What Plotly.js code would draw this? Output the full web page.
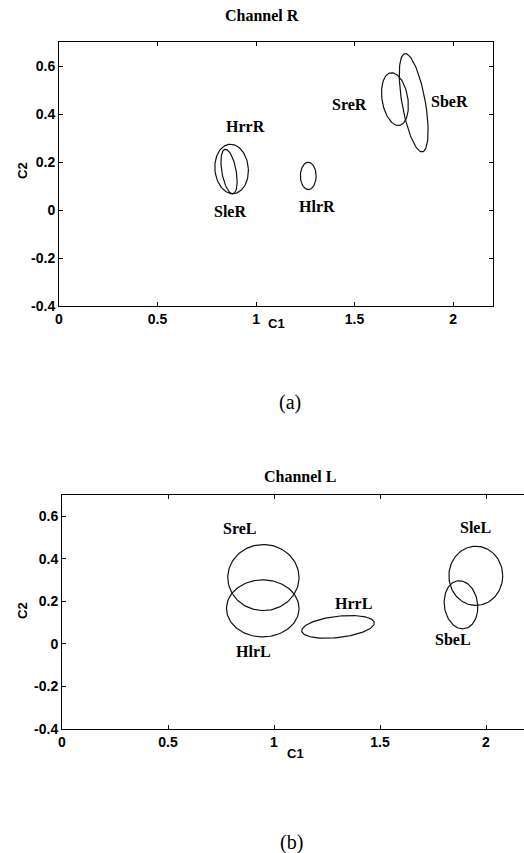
<!DOCTYPE html>
<html>
<head>
<meta charset="utf-8">
<script src="https://cdn.plot.ly/plotly-3.0.1.min.js"></script>
<style>html,body{margin:0;padding:0;background:#fff;}#chart{width:524px;height:853px;}</style>
</head>
<body>
<div id="chart"></div>
<script>
// ---- Data ----
const panelTitles = ['Channel R', 'Channel L'];
const panelCaptions = ['(a)', '(b)'];
const xTickVals = [0, 0.5, 1, 1.5, 2];
const xTickText = ['0', '0.5', '1', '1.5', '2'];
const yTickVals = [-0.4, -0.2, 0, 0.2, 0.4, 0.6];
const yTickText = ['-0.4', '-0.2', '0', '0.2', '0.4', '0.6'];

// Channel R ellipses: centre, semi-axes, and skew offsets (all in C1/C2 units)
const namesR = ['HrrR', 'SleR', 'HlrR', 'SreR', 'SbeR'];
const cxR = [0.876, 0.863, 1.265, 1.705, 1.800];
const cyR = [0.171, 0.160, 0.142, 0.462, 0.447];
const rxR = [0.085, 0.037, 0.040, 0.066, 0.060];
const ryR = [0.103, 0.093, 0.057, 0.110, 0.205];
const hxR = [-0.006, -0.018, 0.000, -0.017, -0.042];
const hyR = [0.000, 0.000, 0.000, 0.000, 0.000];
const labelXR = [0.946, 0.867, 1.311, 1.472, 1.983];
const labelYR = [0.348, -0.006, 0.013, 0.438, 0.454];

// Channel L ellipses
const namesL = ['SreL', 'HlrL', 'HrrL', 'SleL', 'SbeL'];
const cxL = [0.950, 0.947, 1.302, 1.952, 1.882];
const cyL = [0.312, 0.167, 0.080, 0.320, 0.184];
const rxL = [0.168, 0.171, 0.170, 0.127, 0.079];
const ryL = [0.155, 0.134, 0.052, 0.139, 0.113];
const hxL = [0.000, 0.000, 0.020, 0.000, -0.008];
const hyL = [0.000, 0.000, 0.012, 0.000, 0.000];
const labelXL = [0.837, 0.905, 1.373, 1.952, 1.843];
const labelYL = [0.541, -0.036, 0.192, 0.549, 0.019];

// ---- Build ellipse outlines ----
const N = 120;
function ellipse(cx, cy, rx, ry, hx, hy) {
  const xs = [], ys = [];
  for (let i = 0; i <= N; i++) {
    const t = 2 * Math.PI * i / N;
    xs.push(cx + rx * Math.cos(t) + hx * Math.sin(t));
    ys.push(cy + hy * Math.cos(t) + ry * Math.sin(t));
  }
  return {x: xs, y: ys};
}

const traces = [];
const annotations = [];
const labelFont = {family: 'Liberation Serif, Times New Roman, serif', size: 16, color: '#000', weight: 'bold'};

function addSet(names, cx, cy, rx, ry, hx, hy, lx, ly, xa, ya) {
  for (let i = 0; i < names.length; i++) {
    const e = ellipse(cx[i], cy[i], rx[i], ry[i], hx[i], hy[i]);
    traces.push({
      type: 'scatter', mode: 'lines', x: e.x, y: e.y, name: names[i],
      xaxis: xa, yaxis: ya, line: {color: '#111', width: 1.2},
      showlegend: false, hoverinfo: 'name'
    });
    annotations.push({
      text: names[i], x: lx[i], y: ly[i], xref: xa, yref: ya,
      showarrow: false, font: labelFont, xanchor: 'center', yanchor: 'middle'
    });
  }
}
addSet(namesR, cxR, cyR, rxR, ryR, hxR, hyR, labelXR, labelYR, 'x', 'y');
addSet(namesL, cxL, cyL, rxL, ryL, hxL, hyL, labelXL, labelYL, 'x2', 'y2');

// ---- Layout helpers (pixel -> paper) ----
const W = 524, H = 853;
const px = v => v / W;
const py = v => 1 - v / H;

const tickFont = {family: 'Liberation Sans, Arial, sans-serif', size: 14, color: '#000', weight: 'bold'};
function xAxis(dom, rng, anchor) {
  return {
    domain: dom, range: rng, anchor: anchor,
    tickmode: 'array', tickvals: xTickVals, ticktext: xTickText,
    ticks: 'inside', ticklen: 4, tickcolor: '#000', tickwidth: 1,
    showline: true, linecolor: '#000', linewidth: 1, mirror: 'ticks',
    showgrid: false, zeroline: false, tickfont: tickFont, fixedrange: true
  };
}
function yAxis(dom, anchor, mirror) {
  return {
    domain: dom, range: [-0.4, 0.7], anchor: anchor,
    tickmode: 'array', tickvals: yTickVals, ticktext: yTickText,
    ticks: 'inside', ticklen: 4, tickcolor: '#000', tickwidth: 1,
    showline: true, linecolor: '#000', linewidth: 1, mirror: mirror,
    showgrid: false, zeroline: false, tickfont: tickFont, fixedrange: true
  };
}

const titleFont = {family: 'Liberation Serif, Times New Roman, serif', size: 16, color: '#000', weight: 'bold'};
const axTitleFont = {family: 'Liberation Sans, Arial, sans-serif', size: 13, color: '#000', weight: 'bold'};
const capFont = {family: 'Liberation Serif, Times New Roman, serif', size: 20, color: '#000'};

annotations.push(
  {text: panelTitles[0], xref: 'paper', yref: 'paper', x: px(262), y: py(16), showarrow: false, font: titleFont, xanchor: 'center', yanchor: 'middle'},
  {text: panelTitles[1], xref: 'paper', yref: 'paper', x: px(300), y: py(477), showarrow: false, font: titleFont, xanchor: 'center', yanchor: 'middle'},
  {text: 'C1', xref: 'paper', yref: 'paper', x: px(276), y: py(323), showarrow: false, font: axTitleFont, xanchor: 'center', yanchor: 'middle'},
  {text: 'C1', xref: 'paper', yref: 'paper', x: px(295), y: py(753), showarrow: false, font: axTitleFont, xanchor: 'center', yanchor: 'middle'},
  {text: 'C2', xref: 'paper', yref: 'paper', x: px(22), y: py(171), showarrow: false, font: axTitleFont, textangle: -90, xanchor: 'center', yanchor: 'middle'},
  {text: 'C2', xref: 'paper', yref: 'paper', x: px(22), y: py(611), showarrow: false, font: axTitleFont, textangle: -90, xanchor: 'center', yanchor: 'middle'},
  {text: panelCaptions[0], xref: 'paper', yref: 'paper', x: px(290), y: py(402), showarrow: false, font: capFont, xanchor: 'center', yanchor: 'middle'},
  {text: panelCaptions[1], xref: 'paper', yref: 'paper', x: px(291), y: py(842), showarrow: false, font: capFont, xanchor: 'center', yanchor: 'middle'}
);

const layout = {
  width: W, height: H,
  margin: {l: 0, r: 0, t: 0, b: 0},
  paper_bgcolor: '#fff', plot_bgcolor: '#fff',
  showlegend: false,
  xaxis: xAxis([px(59), px(492.5)], [0, 2.2], 'y'),
  yaxis: yAxis([py(306), py(42)], 'x', 'ticks'),
  xaxis2: xAxis([px(62), 1], [0, (W - 62) / 212], 'y2'),
  yaxis2: yAxis([py(729), py(495)], 'x2', false),
  annotations: annotations
};

Plotly.newPlot('chart', traces, layout, {displayModeBar: false, staticPlot: true});
</script>
</body>
</html>
